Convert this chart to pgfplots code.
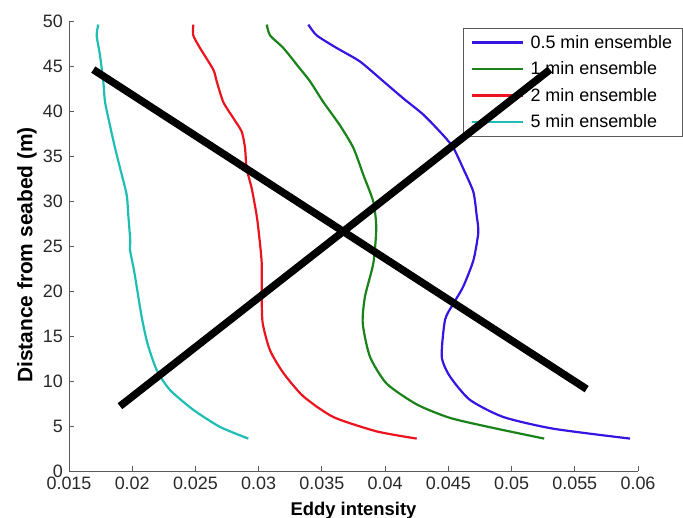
\documentclass[border=0pt]{standalone}
\usepackage{pgfplots}
\pgfplotsset{compat=1.18}
\usepackage{fontspec}
\setmainfont{Liberation Sans}
\definecolor{cblue}{RGB}{55,20,225}
\definecolor{cgreen}{RGB}{25,130,25}
\definecolor{cred}{RGB}{235,20,30}
\definecolor{ccyan}{RGB}{30,190,180}
\definecolor{axgray}{RGB}{90,90,90}
\definecolor{txgray}{RGB}{40,40,40}
\begin{document}
\begin{tikzpicture}
\begin{axis}[
  name=ax,
  set layers,
  scale only axis,
  width=569bp, height=450bp,
  xmin=0.015, xmax=0.06, ymin=0, ymax=50,
  axis x line*=bottom, axis y line*=left,
  axis line style={axgray, line width=0.8bp, -},
  tick style={axgray, line width=0.8bp},
  tick align=inside,
  major tick length=5bp,
  xtick={0.015,0.02,0.025,0.03,0.035,0.04,0.045,0.05,0.055,0.06},
  xticklabels={0.015,0.02,0.025,0.03,0.035,0.04,0.045,0.05,0.055,0.06},
  ytick={0,5,...,50},
  scaled x ticks=false,
  /pgf/number format/assume math mode=true,
  tick label style={font=\fontsize{18}{20}\selectfont, text=txgray},
  xticklabel style={inner sep=0bp, yshift=-6bp},
  yticklabel style={inner sep=0bp, xshift=-6bp},
  xlabel={\bfseries Eddy intensity},
  ylabel={\bfseries Distance from seabed (m)},
  xlabel style={font=\fontsize{18.5}{20}\selectfont, inner sep=0bp, yshift=-12bp},
  ylabel style={font=\fontsize{21}{22}\selectfont, inner sep=0bp, yshift=6bp, xshift=-9bp},
  legend cell align=left,
  legend style={at={(rel axis cs:0.692,0.984)}, anchor=north west,
    draw=axgray, line width=0.6bp, fill=white,
    font=\fontsize{18}{20}\selectfont, row sep=8bp,
    inner xsep=8bp, inner ysep=5bp,
    /tikz/every odd column/.append style={column sep=4bp}},
  legend image code/.code={\draw[#1, line width=2.5bp] (0bp,0bp) -- (51bp,0bp);},
  every axis plot/.append style={line width=2.2bp, line join=round, smooth, tension=0.4},
]
\addplot[cblue] coordinates {
(0.03393,49.6) (0.03459,48.4) (0.03617,47.0) (0.03801,45.5) (0.03986,43.3)
(0.04144,41.4) (0.04302,39.6) (0.04460,37.3) (0.04540,35.9) (0.04618,33.6)
(0.04698,31.0) (0.04724,28.4) (0.04737,26.5) (0.04698,23.4) (0.04618,20.5)
(0.04540,18.6) (0.04474,16.8) (0.04448,12.7) (0.04513,10.5) (0.04671,7.9)
(0.04935,6.0) (0.05330,4.7) (0.05937,3.6)};
\addlegendentry{0.5 min ensemble}
\addplot[cgreen] coordinates {
(0.03064,49.6) (0.03090,48.4) (0.03195,47.0) (0.03327,44.7) (0.03406,43.3)
(0.03511,41.0) (0.03643,38.4) (0.03749,35.9) (0.03828,32.9) (0.03907,29.9)
(0.03930,27.0) (0.03907,23.1) (0.03841,19.4) (0.03823,16.4) (0.03880,12.7)
(0.04013,9.7) (0.04250,7.4) (0.04513,5.9) (0.04850,4.8) (0.05258,3.6)};
\addlegendentry{1 min ensemble}
\addplot[cred] coordinates {
(0.02483,49.6) (0.02483,48.4) (0.02536,47.0) (0.02641,44.6) (0.02668,43.3)
(0.02720,41.0) (0.02800,39.2) (0.02866,37.7) (0.02892,35.9) (0.02905,33.6)
(0.02945,31.4) (0.02984,28.4) (0.03005,26.0) (0.03024,23.1) (0.03024,19.4)
(0.03032,16.4) (0.03090,13.4) (0.03195,10.9) (0.03353,8.3) (0.03590,6.0)
(0.03934,4.4) (0.04250,3.6)};
\addlegendentry{2 min ensemble}
\addplot[ccyan] coordinates {
(0.01732,49.6) (0.01719,48.4) (0.01745,46.2) (0.01771,43.3) (0.01785,41.0)
(0.01824,38.4) (0.01864,35.9) (0.01903,33.7) (0.01956,30.7) (0.01969,28.4)
(0.01985,25.5) (0.01982,24.6) (0.02014,22.3) (0.02040,20.1) (0.02075,17.1)
(0.02120,14.2) (0.02194,11.2) (0.02299,9.0) (0.02483,6.8) (0.02694,4.9)
(0.02918,3.6)};
\addlegendentry{5 min ensemble}
\addplot[black, line width=7.5bp, line cap=butt, sharp plot, on layer=axis foreground, forget plot]
  coordinates {(0.01692,44.6) (0.05594,9.1)};
\addplot[black, line width=7.5bp, line cap=butt, sharp plot, on layer=axis foreground, forget plot]
  coordinates {(0.01903,7.2) (0.05304,44.6)};
\end{axis}
\pgfresetboundingbox
\path ([shift={(-69bp,-47bp)}]ax.south west) rectangle ([shift={(45bp,21bp)}]ax.north east);
\end{tikzpicture}
\end{document}
